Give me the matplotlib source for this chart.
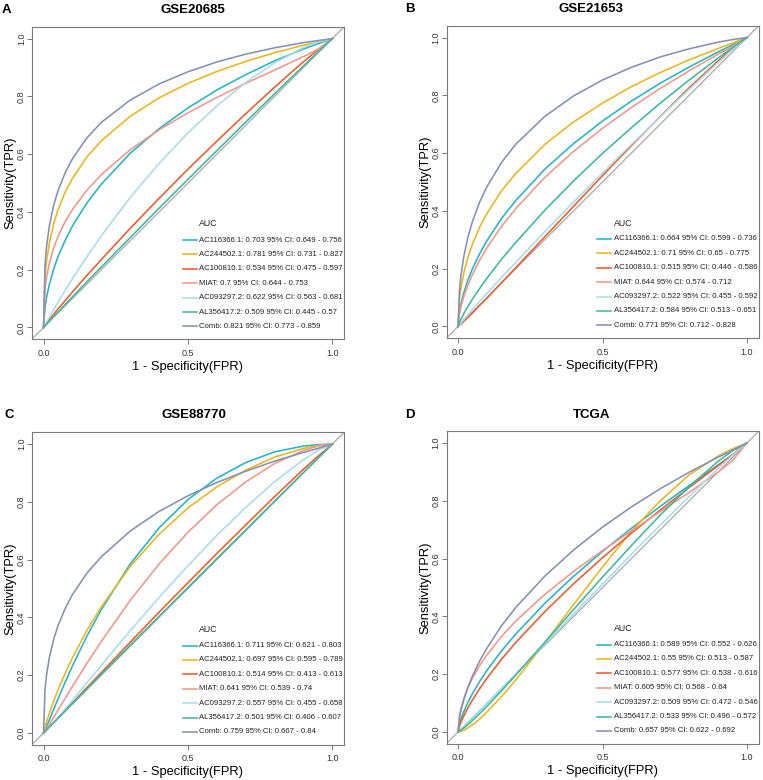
import matplotlib
matplotlib.use("Agg")
import matplotlib.pyplot as plt

plt.rcParams["font.family"] = ["Liberation Sans", "DejaVu Sans"]

# ---- data (smoothed ROC curves) ----
GENES = ["AC116366.1", "AC244502.1", "AC100810.1", "MIAT", "AC093297.2", "AL356417.2", "Comb"]
COLORS = ["#22B5C9", "#EDB51C", "#F05A28", "#F2968A", "#A8DCEB", "#3DB8A0", "#8491B4"]

FPR = [0, .005, .01, .02, .035, .05, .075, .1, .15, .2, .3, .4, .5, .6, .7, .8, .9, .95, 1]

# TPR per gene (same order as GENES)
TPR_A = [
    [0, .069, .102, .149, .202, .245, .302, .351, .431, .496, .603, .688, .760, .822, .875, .923, .964, .982, 1],
    [0, .173, .226, .293, .359, .407, .469, .516, .590, .646, .731, .795, .845, .886, .921, .951, .977, .988, 1],
    [0, .007, .014, .027, .045, .064, .093, .123, .180, .235, .343, .447, .548, .645, .740, .832, .920, .961, 1],
    [0, .131, .171, .222, .275, .315, .367, .408, .475, .529, .615, .684, .743, .796, .845, .891, .938, .963, 1],
    [0, .009, .018, .035, .061, .087, .128, .169, .245, .317, .450, .568, .674, .767, .848, .916, .969, .988, 1],
    [0, .0055, .011, .022, .038, .053, .080, .106, .158, .209, .311, .413, .513, .612, .711, .809, .906, .953, 1],
    [0, .217, .277, .351, .423, .473, .536, .584, .656, .710, .787, .843, .885, .919, .946, .968, .986, .993, 1],
]
TPR_B = [
    [0, .051, .078, .117, .163, .200, .252, .297, .373, .436, .544, .633, .711, .780, .842, .898, .950, .975, 1],
    [0, .095, .133, .186, .242, .286, .344, .391, .469, .530, .630, .708, .773, .830, .879, .923, .962, .981, 1],
    [0, .004, .0085, .018, .032, .047, .073, .098, .151, .204, .310, .416, .522, .626, .727, .826, .919, .963, 1],
    [0, .044, .068, .104, .146, .180, .230, .272, .346, .408, .516, .606, .686, .758, .824, .885, .942, .970, 1],
    [0, .006, .012, .024, .041, .059, .087, .114, .169, .222, .328, .431, .531, .630, .726, .821, .913, .958, 1],
    [0, .014, .025, .045, .071, .095, .132, .167, .232, .291, .402, .504, .599, .688, .773, .853, .929, .965, 1],
    [0, .127, .177, .243, .312, .364, .431, .484, .567, .631, .727, .798, .853, .897, .933, .961, .984, .993, 1],
]
TPR_C = [
    [0, .009, .021, .045, .082, .118, .176, .232, .335, .427, .585, .710, .808, .882, .936, .973, .993, .998, 1],
    [0, .019, .037, .068, .110, .149, .207, .260, .355, .437, .576, .688, .779, .852, .910, .955, .985, .995, 1],
    [0, .005, .010, .020, .036, .052, .078, .104, .157, .209, .314, .418, .520, .621, .720, .818, .913, .958, 1],
    [0, .006, .014, .029, .054, .079, .120, .161, .241, .317, .459, .585, .695, .790, .869, .933, .978, .993, 1],
    [0, .004, .009, .020, .037, .054, .083, .113, .174, .234, .354, .469, .579, .684, .781, .870, .946, .978, 1],
    [0, .005, .010, .021, .036, .051, .076, .102, .152, .203, .304, .404, .504, .604, .703, .803, .902, .951, 1],
    [0, .150, .198, .261, .324, .371, .431, .479, .553, .610, .699, .767, .821, .867, .906, .941, .971, .985, 1],
]
TPR_D = [
    [0, .027, .044, .071, .104, .133, .175, .213, .280, .339, .445, .539, .625, .705, .781, .853, .924, .960, 1],
    [0, .001, .002, .006, .015, .025, .045, .069, .122, .180, .308, .441, .571, .695, .800, .890, .955, .980, 1],
    [0, .020, .034, .056, .085, .111, .150, .186, .251, .310, .416, .513, .603, .688, .768, .846, .922, .959, 1],
    [0, .057, .082, .116, .155, .187, .230, .267, .330, .384, .476, .556, .628, .696, .763, .829, .899, .939, 1],
    [0, .004, .009, .019, .033, .048, .073, .099, .150, .201, .305, .409, .512, .615, .716, .815, .912, .958, 1],
    [0, .003, .006, .014, .026, .040, .064, .089, .142, .197, .310, .424, .536, .645, .751, .849, .937, .973, 1],
    [0, .048, .074, .112, .157, .194, .246, .290, .367, .431, .539, .630, .709, .779, .842, .899, .951, .975, 1],
]

AUC_A = ["0.703", "0.781", "0.534", "0.7", "0.622", "0.509", "0.821"]
LO_A = ["0.649", "0.731", "0.475", "0.644", "0.563", "0.445", "0.773"]
HI_A = ["0.756", "0.827", "0.597", "0.753", "0.681", "0.57", "0.859"]
AUC_B = ["0.664", "0.71", "0.515", "0.644", "0.522", "0.584", "0.771"]
LO_B = ["0.599", "0.65", "0.446", "0.574", "0.455", "0.513", "0.712"]
HI_B = ["0.736", "0.775", "0.586", "0.712", "0.592", "0.651", "0.828"]
AUC_C = ["0.711", "0.697", "0.514", "0.641", "0.557", "0.501", "0.759"]
LO_C = ["0.621", "0.595", "0.413", "0.539", "0.455", "0.406", "0.667"]
HI_C = ["0.803", "0.789", "0.613", "0.74", "0.658", "0.607", "0.84"]
AUC_D = ["0.589", "0.55", "0.577", "0.605", "0.509", "0.533", "0.657"]
LO_D = ["0.552", "0.513", "0.538", "0.568", "0.472", "0.496", "0.622"]
HI_D = ["0.626", "0.587", "0.616", "0.64", "0.546", "0.572", "0.692"]

PANELS = [
    ("A", "GSE20685", TPR_A, AUC_A, LO_A, HI_A),
    ("B", "GSE21653", TPR_B, AUC_B, LO_B, HI_B),
    ("C", "GSE88770", TPR_C, AUC_C, LO_C, HI_C),
    ("D", "TCGA", TPR_D, AUC_D, LO_D, HI_D),
]

W, H = 763, 780
# axes boxes in pixels: left, top (square, side S); title/letter x in pixels
BOX = [(32, 27), (446.5, 26), (32, 432.5), (446.5, 431.5)]
TITLE_X = [193, 591, 194, 592]
LETTER_X = [6, 410, 9, 410]
S = 312

fig = plt.figure(figsize=(W / 100, H / 100), dpi=100)
GRID = "#7a7a7a"

for (letter, title, tpr, auc, lo, hi), (bx, by), tx, lx in zip(PANELS, BOX, TITLE_X, LETTER_X):
    ax = fig.add_axes([bx / W, 1 - (by + S) / H, S / W, S / H])
    ax.set_xlim(-0.04, 1.04)
    ax.set_ylim(-0.04, 1.04)
    ax.axline((0, 0), (1, 1), color="#a0a0a0", lw=0.8, zorder=1)
    for g, col, ys in zip(GENES, COLORS, tpr):
        ax.plot(FPR, ys, color=col, lw=1.15, zorder=2, solid_joinstyle="round")

    for s in ax.spines.values():
        s.set_color(GRID); s.set_linewidth(0.8)
    ax.set_xticks([0, 0.5, 1.0]); ax.set_xticklabels(["0.0", "0.5", "1.0"])
    ax.set_yticks([0, 0.2, 0.4, 0.6, 0.8, 1.0])
    ax.set_yticklabels(["0.0", "0.2", "0.4", "0.6", "0.8", "1.0"], rotation=90, va="center")
    ax.tick_params(length=3.5, width=0.7, color=GRID, labelsize=6.5, labelcolor="#333333")
    ax.tick_params(axis="x", pad=3.5)
    ax.tick_params(axis="y", pad=0.8)
    ax.set_xlabel("1 - Specificity(FPR)", fontsize=9.3, labelpad=2.2)
    ax.set_ylabel("Sensitivity(TPR)", fontsize=9.3, labelpad=0.3)

    # panel title and letter
    fig.text(tx / W, 1 - (by - 17) / H, title, ha="center", va="center",
             fontsize=9.5, fontweight="bold")
    fig.text(lx / W, 1 - (by - 17) / H, letter, ha="center", va="center",
             fontsize=9.5, fontweight="bold")

    # legend (R style, no frame)
    tr = ax.transAxes
    ax.text(167 / S, 1 - 197 / S, "AUC", transform=tr, fontsize=6.3, va="center", ha="left",
            color="#222222")
    for i, (g, col) in enumerate(zip(GENES, COLORS)):
        yy = 1 - (213 + 14.4 * i) / S
        ax.plot([150.5 / S, 164.5 / S], [yy, yy], transform=tr, color=col, lw=1.15,
                clip_on=False)
        ax.text(167 / S, yy, f"{g}: {auc[i]} 95% CI: {lo[i]} - {hi[i]}", transform=tr,
                fontsize=5.6, va="center", ha="left", color="#222222")

fig.savefig("out.png", dpi=100)
